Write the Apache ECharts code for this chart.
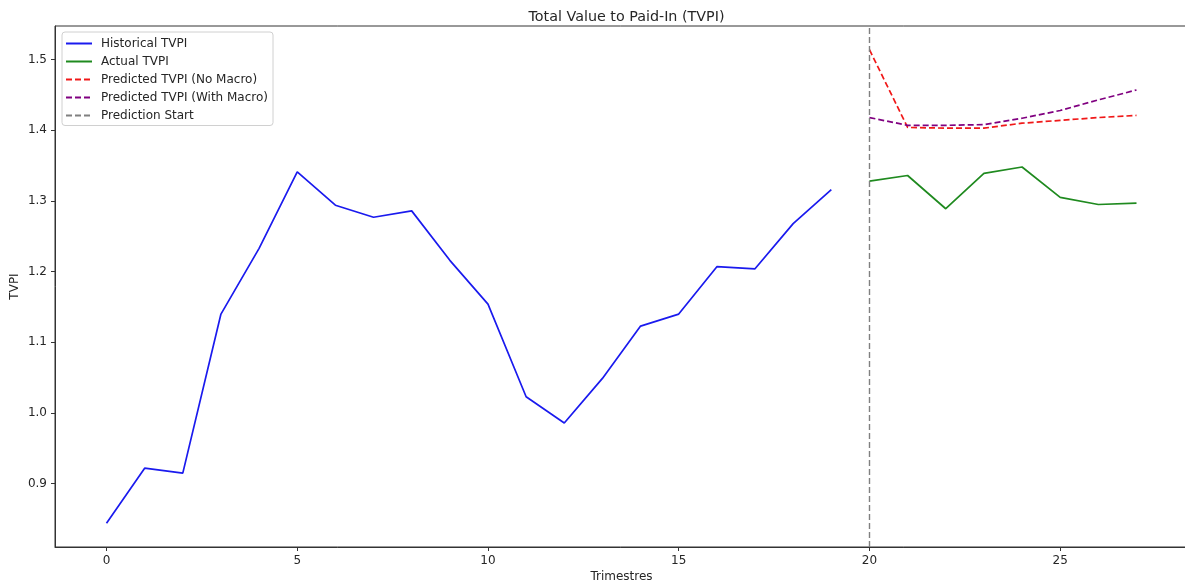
<!DOCTYPE html>
<html>
<head>
<meta charset="utf-8">
<script src="https://cdn.jsdelivr.net/npm/echarts@6/dist/echarts.min.js"></script>
<style>
  html, body { margin: 0; padding: 0; background: #fff; }
  #chart { width: 1185px; height: 584px; }
</style>
</head>
<body>
<div id="chart"></div>
<script>
// TVPI per quarter: history (quarters 0-19) and the forecast window (20-27)
const historicalTVPI = [0.844, 0.922, 0.915, 1.140, 1.233, 1.341, 1.294, 1.277, 1.286, 1.216,
                        1.154, 1.023, 0.986, 1.049, 1.123, 1.140, 1.207, 1.204, 1.268, 1.316];
const actualTVPI     = [1.328, 1.336, 1.289, 1.339, 1.348, 1.305, 1.295, 1.297];
const predNoMacro    = [1.514, 1.404, 1.403, 1.403, 1.410, 1.414, 1.418, 1.421];
const predWithMacro  = [1.418, 1.407, 1.407, 1.408, 1.417, 1.428, 1.443, 1.457];
const predictionStart = 20;
const xTicks = [0, 5, 10, 15, 20, 25];
const yTicks = [0.9, 1.0, 1.1, 1.2, 1.3, 1.4, 1.5];

const toPairs = (vals, start) => vals.map((v, i) => [start + i, v]);

// axis limits padded by 5% of the data span on each side
const lastQuarter = predictionStart + actualTVPI.length - 1;
const allVals = historicalTVPI.concat(actualTVPI, predNoMacro, predWithMacro);
const yLo = Math.min(...allVals), yHi = Math.max(...allVals);
const xPad = 0.05 * lastQuarter, yPad = 0.05 * (yHi - yLo);

const FONT = 'DejaVu Sans';
const TXT = '#262626';
const dash = [6, 3];

const chart = echarts.init(document.getElementById('chart'), null, { renderer: 'canvas' });
chart.setOption({
  animation: false,
  backgroundColor: '#fff',
  title: {
    text: 'Total Value to Paid-In (TVPI)',
    left: 621.5, top: 5, textAlign: 'center',
    textStyle: { fontFamily: FONT, fontSize: 14.3, fontWeight: 'normal', color: TXT }
  },
  legend: {
    orient: 'vertical',
    left: 62, top: 32,
    padding: [5.5, 5, 4, 3],
    itemWidth: 26, itemHeight: 12, itemGap: 6,
    backgroundColor: 'rgba(255,255,255,0.8)',
    borderColor: '#d0d0d0', borderWidth: 1, borderRadius: 3,
    itemStyle: { opacity: 0 },
    textStyle: { fontFamily: FONT, fontSize: 12, color: TXT, padding: [0, 0, 0, 4] },
    data: ['Historical TVPI', 'Actual TVPI', 'Predicted TVPI (No Macro)',
           'Predicted TVPI (With Macro)', 'Prediction Start']
  },
  grid: {
    left: 55, top: 26, width: 1133, height: 521,
    containLabel: false, outerBoundsMode: 'none',
    show: true, borderColor: '#333', borderWidth: 1, backgroundColor: 'transparent'
  },
  xAxis: {
    type: 'value',
    min: -xPad, max: lastQuarter + xPad,
    name: 'Trimestres', nameLocation: 'middle', nameGap: 24, nameMoveOverlap: false,
    nameTextStyle: { fontFamily: FONT, fontSize: 12, color: TXT },
    splitLine: { show: false },
    axisLine: { show: true, onZero: false, lineStyle: { color: '#333', width: 1 } },
    axisTick: { show: true, length: 4, customValues: xTicks, lineStyle: { color: '#333' } },
    axisLabel: { customValues: xTicks, margin: 8, fontFamily: FONT, fontSize: 12, color: TXT,
                 formatter: v => String(v) }
  },
  yAxis: {
    type: 'value',
    min: yLo - yPad, max: yHi + yPad,
    name: 'TVPI', nameLocation: 'middle', nameGap: 34, nameRotate: 90, nameMoveOverlap: false,
    nameTextStyle: { fontFamily: FONT, fontSize: 12, color: TXT },
    splitLine: { show: false },
    axisLine: { show: true, onZero: false, lineStyle: { color: '#333', width: 1 } },
    axisTick: { show: true, length: 4, customValues: yTicks, lineStyle: { color: '#333' } },
    axisLabel: { customValues: yTicks, margin: 8, fontFamily: FONT, fontSize: 12, color: TXT,
                 formatter: v => v.toFixed(1) }
  },
  series: [
    {
      name: 'Historical TVPI', type: 'line', symbol: 'none',
      data: toPairs(historicalTVPI, 0),
      lineStyle: { color: '#1a1aee', width: 1.7 }, itemStyle: { color: '#1a1aee' }
    },
    {
      name: 'Actual TVPI', type: 'line', symbol: 'none',
      data: toPairs(actualTVPI, predictionStart),
      lineStyle: { color: '#1f8a1f', width: 1.7 }, itemStyle: { color: '#1f8a1f' }
    },
    {
      name: 'Predicted TVPI (No Macro)', type: 'line', symbol: 'none',
      data: toPairs(predNoMacro, predictionStart),
      lineStyle: { color: '#f01818', width: 1.7, type: dash }, itemStyle: { color: '#f01818' }
    },
    {
      name: 'Predicted TVPI (With Macro)', type: 'line', symbol: 'none',
      data: toPairs(predWithMacro, predictionStart),
      lineStyle: { color: '#800080', width: 1.7, type: dash }, itemStyle: { color: '#800080' }
    },
    {
      name: 'Prediction Start', type: 'line', symbol: 'none',
      data: [],
      lineStyle: { color: '#808080', width: 1.4, type: dash }, itemStyle: { color: '#808080' },
      markLine: {
        silent: true, symbol: 'none', label: { show: false },
        lineStyle: { color: '#808080', width: 1.4, type: dash },
        data: [{ xAxis: predictionStart }]
      }
    }
  ]
});
</script>
</body>
</html>
